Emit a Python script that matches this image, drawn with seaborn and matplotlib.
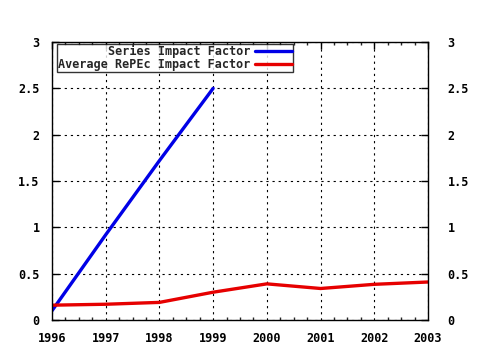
import matplotlib
matplotlib.use("Agg")
import matplotlib.pyplot as plt
from matplotlib.ticker import MultipleLocator, FormatStrFormatter
import seaborn as sns
import pandas as pd

series_years = [1996, 1997, 1998, 1999]
series_if = [0.10, 0.92, 1.72, 2.50]

avg_years = [1996, 1997, 1998, 1999, 2000, 2001, 2002, 2003]
avg_if = [0.16, 0.17, 0.19, 0.30, 0.39, 0.34, 0.385, 0.41]

series_label = "Series Impact Factor"
avg_label = "Average RePEc Impact Factor"

df = pd.concat([
    pd.DataFrame({"year": series_years, "value": series_if, "series": series_label}),
    pd.DataFrame({"year": avg_years, "value": avg_if, "series": avg_label}),
])

sns.set_style("white")
plt.rcParams["font.family"] = ["DejaVu Sans Mono"]
plt.rcParams["font.weight"] = "bold"

fig = plt.figure(figsize=(4.8, 3.5), dpi=100)
ax = fig.add_axes([52 / 480, 30 / 350, 376 / 480, 278 / 350])

sns.lineplot(data=df, x="year", y="value", hue="series",
             palette={series_label: "#0000e6", avg_label: "#e60000"},
             linewidth=2.4, ax=ax, legend=True)

ax.set_xlim(1996, 2003)
ax.set_ylim(0, 3)
ax.xaxis.set_major_locator(MultipleLocator(1))
ax.xaxis.set_minor_locator(MultipleLocator(0.25))
ax.yaxis.set_major_locator(MultipleLocator(0.5))
ax.yaxis.set_major_formatter(FormatStrFormatter("%g"))
ax.set_xlabel("")
ax.set_ylabel("")

ax.grid(True, which="major", color="black", linestyle=(0, (2, 3.5)), linewidth=0.8)
for s in ax.spines.values():
    s.set_color("black")
    s.set_linewidth(1.0)

ax.tick_params(axis="both", which="major", direction="in", length=5, width=1,
               top=True, right=True, labelsize=8.5, colors="black")
ax.tick_params(axis="x", which="major", pad=9)
ax.tick_params(axis="y", which="major", pad=9)
ax.tick_params(axis="x", which="minor", direction="in", length=2.5, width=1,
               top=True, bottom=True)

# right-hand value axis mirrors the left one
ax_r = ax.twinx()
ax_r.set_ylim(ax.get_ylim())
ax_r.yaxis.set_major_locator(MultipleLocator(0.5))
ax_r.yaxis.set_major_formatter(FormatStrFormatter("%g"))
ax_r.tick_params(axis="y", direction="in", length=5, width=1, labelsize=8.5,
                 colors="black", pad=14)
ax_r.grid(False)
for s in ax_r.spines.values():
    s.set_visible(False)

for lab in ax.get_xticklabels() + ax.get_yticklabels() + ax_r.get_yticklabels():
    lab.set_fontweight("bold")

leg = ax.legend(loc="upper left", bbox_to_anchor=(0.012, 0.993), markerfirst=False,
                frameon=True, fancybox=False, shadow=False, fontsize=8.5,
                handlelength=3.1, handletextpad=0.45, borderpad=0.1,
                labelspacing=0.0, borderaxespad=0)
leg.get_frame().set_edgecolor("black")
leg.get_frame().set_linewidth(1.0)
for t in leg.get_texts():
    t.set_fontweight("bold")
for l in leg.get_lines():
    l.set_linewidth(2.4)

fig.savefig("out.png", dpi=100, facecolor="white")
